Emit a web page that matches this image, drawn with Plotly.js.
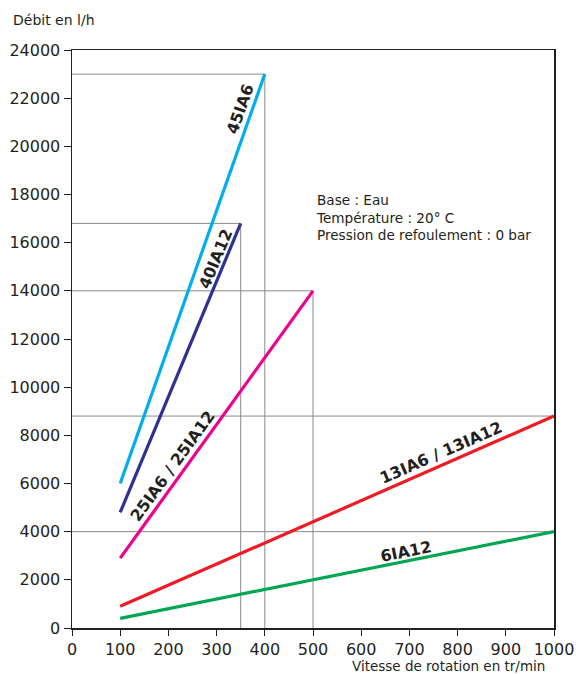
<!DOCTYPE html>
<html><head><meta charset="utf-8">
<script src="https://cdn.plot.ly/plotly-3.0.1.min.js"></script>
<style>html,body{margin:0;padding:0;background:#fff;}</style>
</head><body>
<div id="chart" style="width:576px;height:674px;"></div>
<script>
// Series: speed (tr/min) and flow (l/h), start and end points
const seriesNames = ["45IA6", "40IA12", "25IA6 / 25IA12", "13IA6 / 13IA12", "6IA12"];
const speed45 = [100, 400];   const flow45 = [6000, 23000];
const speed40 = [100, 350];   const flow40 = [4800, 16800];
const speed25 = [100, 500];   const flow25 = [2900, 14000];
const speed13 = [100, 1000];  const flow13 = [900, 8800];
const speed6  = [100, 1000];  const flow6  = [400, 4000];
const seriesColors = ["#00aeef", "#2e3192", "#ec008c", "#ed1c24", "#00a651"];

// Reference (max) levels: horizontal guide at flow, ending at speed
const refFlow  = [23000, 16800, 14000, 8800, 4000];
const refSpeed = [400, 350, 500, 1000, 1000];
const refVertical = [true, true, true, false, false];

// Labels placed along lines
const labelX = [348, 297, 210, 766, 693];
const labelY = [21550, 15320, 6730, 7300, 3190];
const labelAngle = [-70.5, -67.4, -54.2, -23.7, -11.3];

const infoLines = ["Base : Eau", "Température : 20° C", "Pression de refoulement : 0 bar"];

const xTicks = [0,100,200,300,400,500,600,700,800,900,1000];
const yTicks = [0,2000,4000,6000,8000,10000,12000,14000,16000,18000,20000,22000,24000];

const FONT = "DejaVu Sans, Liberation Sans, sans-serif";
const traces = [];
// reference lines
for (let i = 0; i < refFlow.length; i++) {
  traces.push({x:[0, refSpeed[i]], y:[refFlow[i], refFlow[i]], mode:"lines",
    line:{color:"#8a8a8a", width:1}, hoverinfo:"skip", showlegend:false});
  if (refVertical[i]) {
    traces.push({x:[refSpeed[i], refSpeed[i]], y:[0, refFlow[i]], mode:"lines",
      line:{color:"#8a8a8a", width:1}, hoverinfo:"skip", showlegend:false});
  }
}
const xs = [speed45, speed40, speed25, speed13, speed6];
const ys = [flow45, flow40, flow25, flow13, flow6];
for (let i = 0; i < xs.length; i++) {
  traces.push({x:xs[i], y:ys[i], mode:"lines", name:seriesNames[i],
    line:{color:seriesColors[i], width:3.2}, showlegend:false});
}

const annotations = seriesNames.map((n, i) => ({
  x: labelX[i], y: labelY[i], xref:"x", yref:"y", text:n, showarrow:false,
  textangle: labelAngle[i], font:{family:FONT, size:16, color:"#231f20", weight:"bold"}
}));
annotations.push({x:502, y:17050, xref:"x", yref:"y", xanchor:"left", yanchor:"middle",
  align:"left", showarrow:false, text: infoLines.join("<br>"),
  font:{family:FONT, size:13.6, color:"#231f20"}});
annotations.push({x:-0.1266, y:1.052, xref:"paper", yref:"paper", xanchor:"left", yanchor:"middle",
  showarrow:false, text:"Débit en l/h", font:{family:FONT, size:14, color:"#231f20"}});
annotations.push({x:0.985, y:-0.0665, xref:"paper", yref:"paper", xanchor:"right", yanchor:"middle",
  showarrow:false, text:"Vitesse de rotation en tr/min", font:{family:FONT, size:13.5, color:"#231f20"}});

const layout = {
  width:576, height:674,
  margin:{l:72, r:22, t:50, b:46},
  paper_bgcolor:"#fff", plot_bgcolor:"#fff",
  showlegend:false,
  xaxis:{range:[0,1000], tickvals:xTicks, ticktext:xTicks.map(String), showgrid:false, zeroline:false,
    showline:true, linecolor:"#231f20", linewidth:1.5, mirror:true,
    ticks:"outside", ticklen:6, tickcolor:"#231f20",
    tickfont:{family:FONT, size:16, color:"#231f20"}},
  yaxis:{range:[0,24000], tickvals:yTicks, ticktext:yTicks.map(String), showgrid:false, zeroline:false,
    showline:true, linecolor:"#231f20", linewidth:1.5, mirror:true,
    ticks:"outside", ticklen:7, tickcolor:"#231f20",
    tickfont:{family:FONT, size:16, color:"#231f20"}},
  annotations: annotations
};
Plotly.newPlot("chart", traces, layout, {displayModeBar:false, staticPlot:true});
</script>
</body></html>
